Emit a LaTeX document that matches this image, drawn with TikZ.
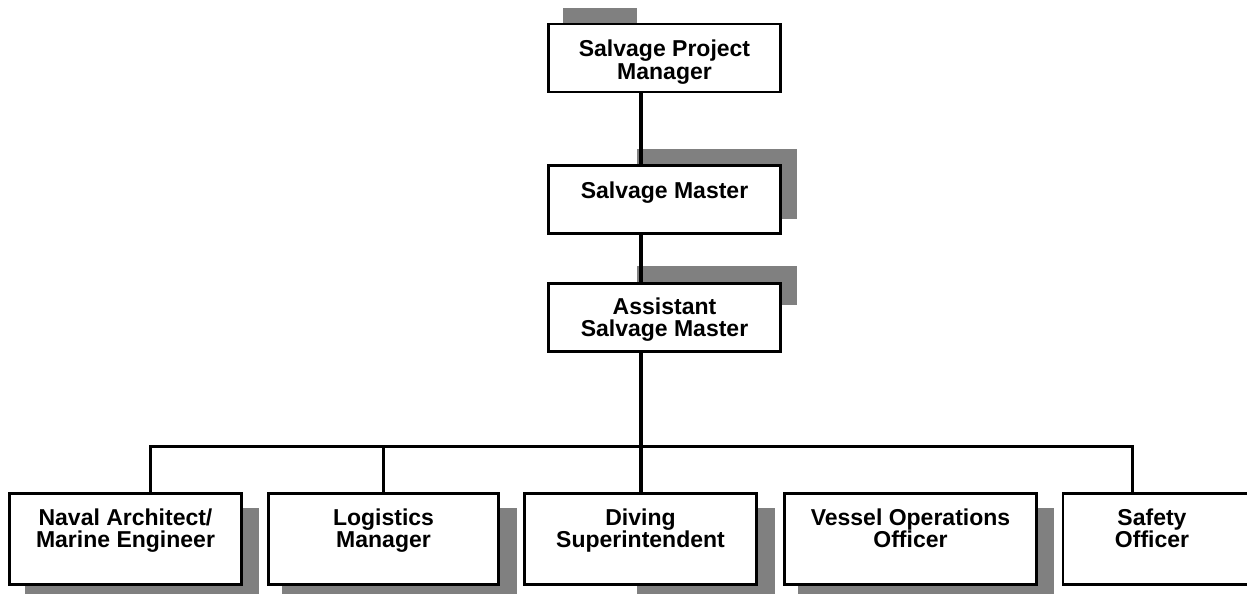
\documentclass[tikz,border=0pt]{standalone}
\usepackage{fontspec}
\setmainfont{Liberation Sans}
\usetikzlibrary{positioning,calc}

\begin{document}
\begin{tikzpicture}[x=1pt, y=-1pt,
  rolebox/.style={draw, line width=2.6pt, fill=white, inner sep=0pt, minimum width=232pt, minimum height=68pt},
  lowbox/.style={rolebox, minimum height=91pt},
  rolename/.style={font=\bfseries\fontsize{23}{22.5}\selectfont, align=center, anchor=north, inner sep=0pt},
  wire/.style={line width=3pt, line join=miter},
  trunk/.style={line width=4pt},
  drop/.style={fill=black!50}]
\clip (0,0) rectangle (1247,594);

% Drop shadows (behind the boxes)
\fill[drop] (563,8) rectangle (637,30);
\fill[drop] (637,149) rectangle (797,219);
\fill[drop] (637,266) rectangle (797,305);
\fill[drop] (25,508) rectangle (259,600);
\fill[drop] (282,508) rectangle (517,600);
\fill[drop] (637,508) rectangle (775,600);
\fill[drop] (798,508) rectangle (1054,600);

% Upper chain
\node[rolebox] (spm) at (664.5,58) {};
\node[rolebox] (sm) at (664.5,199.5) {};
\node[rolebox] (asm) at (664.5,317.5) {};
\node[rolename] (spmT) at ([yshift=-17pt]spm.north) {Salvage Project\\Manager};
\node[rolename] (smT) at ([yshift=-17pt]sm.north) {Salvage Master};
\node[rolename] (asmT) at ([yshift=-15pt]asm.north) {Assistant\\Salvage Master};

% Bottom row
\node[lowbox] (nav) at (125.5,539) {};
\node[lowbox, minimum width=230pt] (logi) at (383.5,539) {};
\node[lowbox] (dive) at (640.5,539) {};
\node[lowbox, minimum width=252pt] (vessel) at (910.5,539) {};
\node[lowbox, minimum width=190pt] (safe) at (1158,539) {};
\node[rolename] (navT) at ([yshift=-16pt]nav.north) {Naval Architect/\\Marine Engineer};
\node[rolename] (logiT) at ([yshift=-16pt]logi.north) {Logistics\\Manager};
\node[rolename] (diveT) at ([yshift=-16pt]dive.north) {Diving\\Superintendent};
\node[rolename] (vesselT) at ([yshift=-16pt]vessel.north) {Vessel Operations\\Officer};
\node[rolename] (safeT) at ([xshift=-6pt, yshift=-16pt]safe.north) {Safety\\Officer};

% Trunk
\draw[trunk] (spm.south -| dive) -- (sm.north -| dive);
\draw[trunk] (sm.south -| dive) -- (asm.north -| dive);
\draw[trunk] (asm.south -| dive) -- (dive.north);

% Bus and branches
\coordinate (navTap) at (150,446);
\coordinate (logiTap) at (logi |- navTap);
\coordinate (safeTap) at (1132,446);
\draw[wire] (navTap |- nav.north) -- (navTap) -- (safeTap) -- (safeTap |- safe.north);
\draw[wire] (logiTap) -- (logi.north);

\end{tikzpicture}
\end{document}
